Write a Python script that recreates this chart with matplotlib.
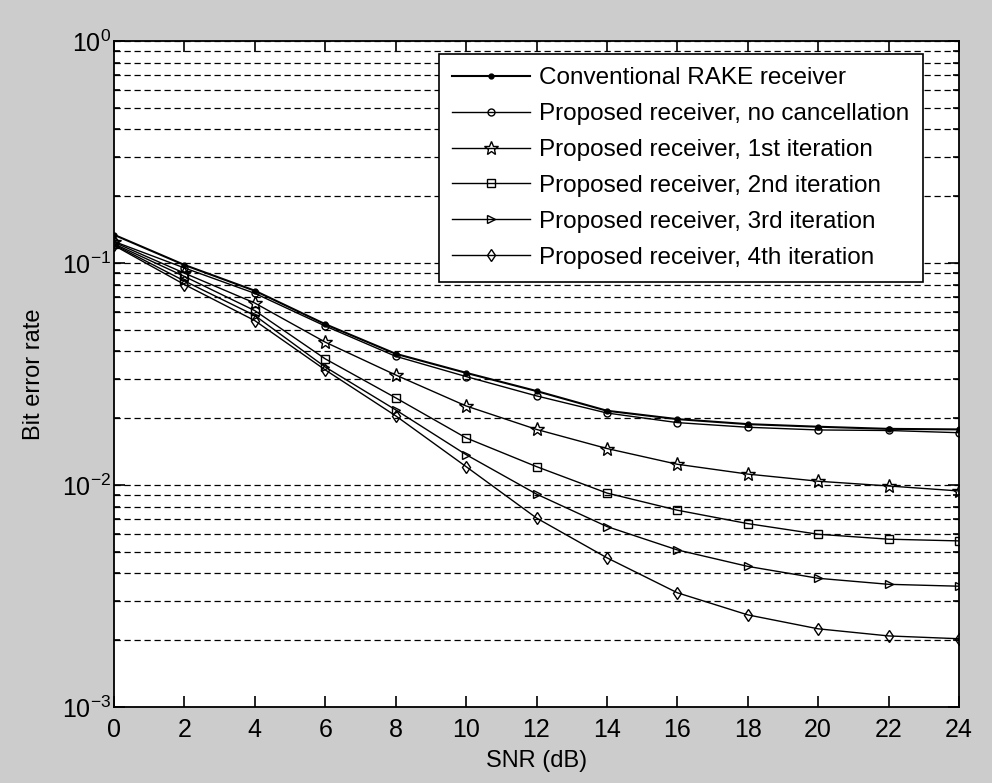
import math
import matplotlib
matplotlib.use("Agg")
import matplotlib.pyplot as plt
from matplotlib.ticker import LogLocator, FuncFormatter, NullFormatter

plt.rcParams['font.family'] = ['Liberation Sans', 'DejaVu Sans']
plt.rcParams['mathtext.fontset'] = 'custom'
plt.rcParams['mathtext.rm'] = 'Liberation Sans'
plt.rcParams['mathtext.default'] = 'regular'

snr = [0, 2, 4, 6, 8, 10, 12, 14, 16, 18, 20, 22, 24]

rake = [0.134, 0.098, 0.075, 0.053, 0.039, 0.032, 0.0265, 0.0216, 0.0198, 0.0188, 0.0183, 0.0179, 0.0178]
no_cancel = [0.125, 0.095, 0.073, 0.052, 0.038, 0.0308, 0.0252, 0.0211, 0.0191, 0.0182, 0.0177, 0.0176, 0.0172]
iter1 = [0.124, 0.09, 0.066, 0.044, 0.0313, 0.0227, 0.0178, 0.0146, 0.0124, 0.0112, 0.0104, 0.0099, 0.0094]
iter2 = [0.122, 0.087, 0.061, 0.037, 0.0247, 0.0163, 0.0121, 0.0092, 0.0077, 0.0067, 0.0060, 0.0057, 0.0056]
iter3 = [0.121, 0.083, 0.058, 0.034, 0.0218, 0.0137, 0.0091, 0.0065, 0.0051, 0.0043, 0.0038, 0.00357, 0.0035]
iter4 = [0.120, 0.080, 0.055, 0.033, 0.0205, 0.0121, 0.0071, 0.0047, 0.00327, 0.0026, 0.00225, 0.00209, 0.00203]

labels = ["Conventional RAKE receiver",
          "Proposed receiver, no cancellation",
          "Proposed receiver, 1st iteration",
          "Proposed receiver, 2nd iteration",
          "Proposed receiver, 3rd iteration",
          "Proposed receiver, 4th iteration"]

fig = plt.figure(figsize=(9.92, 7.83), dpi=100, facecolor='#cccccc')
ax = fig.add_axes([114/992, 1 - 707/783, (959-114)/992, (707-41)/783])
ax.set_facecolor('white')

ax.plot(snr, rake, '-', color='black', lw=1.5, marker='.', ms=7, label=labels[0])
ax.plot(snr, no_cancel, '-', color='black', lw=1.0, marker='o', ms=5, mfc='none', label=labels[1])
ax.plot(snr, iter1, '-', color='black', lw=1.0, marker='*', ms=10, mfc='none', mew=1.0, label=labels[2])
ax.plot(snr, iter2, '-', color='black', lw=1.0, marker='s', ms=5.5, mfc='none', label=labels[3])
ax.plot(snr, iter3, '-', color='black', lw=1.0, marker='>', ms=6, mfc='none', label=labels[4])
ax.plot(snr, iter4, '-', color='black', lw=1.0, marker='d', ms=6.5, mfc='none', label=labels[5])

ax.set_yscale('log')
ax.set_ylim(1e-3, 1)
ax.set_xlim(0, 24)
ax.set_xticks(range(0, 25, 2))
ax.yaxis.set_major_locator(LogLocator(base=10, numticks=10))
ax.yaxis.set_major_formatter(FuncFormatter(lambda v, p: r'$10^{%d}$' % round(math.log10(v))))
ax.yaxis.set_minor_locator(LogLocator(base=10, subs=range(2, 10), numticks=20))
ax.yaxis.set_minor_formatter(NullFormatter())

ax.grid(True, which='both', axis='y', color='black', linestyle=(0, (5, 3)), lw=0.9)
ax.tick_params(axis='both', which='both', direction='in', top=True, right=True, labelsize=18, width=1.2)
ax.tick_params(axis='x', which='major', length=8, pad=8)
ax.tick_params(axis='y', which='major', length=8, pad=2)
ax.tick_params(axis='y', which='minor', length=4)
for sp in ax.spines.values():
    sp.set_linewidth(1.3)

ax.set_xlabel('SNR (dB)', fontsize=17, labelpad=6)
ax.set_ylabel('Bit error rate', fontsize=17, labelpad=12)

leg = ax.legend(loc='upper right', fontsize=17.5, frameon=True, fancybox=False,
                edgecolor='black', framealpha=1, borderpad=0.55, labelspacing=0.57,
                handlelength=3.2, handletextpad=0.4, borderaxespad=0,
                bbox_to_anchor=((923-114)/845, (707-54)/666))
leg.get_frame().set_linewidth(1.2)

fig.savefig('out.png', dpi=100, facecolor=fig.get_facecolor())
